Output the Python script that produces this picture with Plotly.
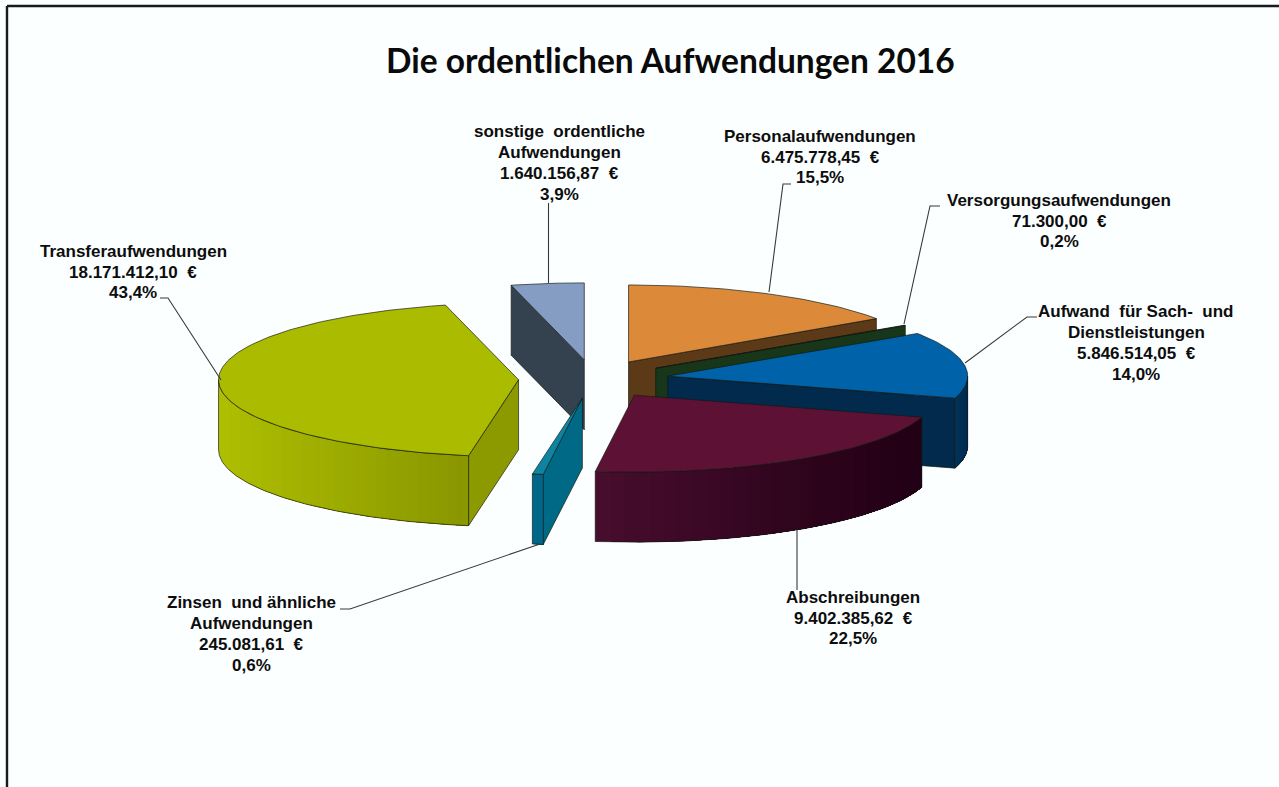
import numpy as np
import plotly.graph_objects as go

# --- data ---
names = [
    ["Personalaufwendungen"],
    ["Versorgungsaufwendungen"],
    ["Aufwand\u00a0 für Sach-\u00a0 und", "Dienstleistungen"],
    ["Abschreibungen"],
    ["Zinsen\u00a0 und ähnliche", "Aufwendungen"],
    ["Transferaufwendungen"],
    ["sonstige\u00a0 ordentliche", "Aufwendungen"],
]
values = [6475778.45, 71300.00, 5846514.05, 9402385.62, 245081.61, 18171412.10, 1640156.87]

# --- styles ---
top_colors = ["#DC8A3A", "#1B3A17", "#0062A8", "#5C1135", "#0E84A3", "#AABB00", "#859DC3"]
face_colors = ["#5C3A17", "#17361A", "#012A4C", "#2A0A1C", "#006A86", "#8C9A00", "#34414F"]
wall_left = ["#5C3A17", "#17361A", "#01345C", "#470D2C", "#00688A", "#AEBE00", "#34414F"]
wall_right = ["#5C3A17", "#17361A", "#012C4E", "#220016", "#00688A", "#8A9700", "#34414F"]
draw_order = [6, 5, 0, 1, 2, 4, 3]

CX, CY, RX, RY = 593.5, 379.0, 300.0, 77.0
DEPTH, EXPLODE = 70.0, 0.25
PAGE = "#FBFFFF"
EDGE = "rgba(20,25,20,0.85)"
LINE_GAP = 20.7

label_pos = [(820, 157), (1059, 221), (1136, 343), (853, 618), (251, 634), (133, 272), (559, 163)]
leaders = [
    ([791, 783, 769], [184, 184, 292]),
    ([940, 930, 904], [206, 206, 324]),
    ([1037, 1027, 965], [317, 317, 363]),
    ([797, 797], [530, 590]),
    ([340, 350, 540], [609, 609, 544]),
    ([160, 168, 221], [298, 298, 380]),
    ([548.5, 548.5], [203, 283]),
]


def de(v):
    return f"{v:,.2f}".replace(",", "X").replace(".", ",").replace("X", ".")


def hex_rgb(h):
    return np.array([int(h[i:i + 2], 16) for i in (1, 3, 5)], float)


def mix(a, b, t):
    c = hex_rgb(a) * (1 - t) + hex_rgb(b) * t
    return "rgb(%d,%d,%d)" % tuple(c)


total = sum(values)
shares = [v / total for v in values]
bounds = np.concatenate([[0], np.cumsum(shares)]) * 360.0

fig = go.Figure()


def poly(xs, ys, fill, line=None, width=0.8):
    fig.add_trace(go.Scatter(
        x=list(xs), y=list(ys), mode="lines", fill="toself", fillcolor=fill,
        line=dict(color=line or fill, width=width), hoverinfo="skip", showlegend=False))


for i in draw_order:
    a0, a1 = bounds[i], bounds[i + 1]
    mid = np.radians((a0 + a1) / 2)
    ax = CX + EXPLODE * RX * np.sin(mid)
    ay = CY - EXPLODE * RY * np.cos(mid)

    def rim(deg):
        r = np.radians(deg)
        return ax + RX * np.sin(r), ay - RY * np.cos(r)

    # radial cut faces that look towards the viewer
    if np.sin(np.radians(a0)) < -1e-6:
        x, y = rim(a0)
        poly([ax, x, x, ax, ax], [ay, y, y + DEPTH, ay + DEPTH, ay], face_colors[i], EDGE)
    if np.sin(np.radians(a1)) > 1e-6:
        x, y = rim(a1)
        poly([ax, x, x, ax, ax], [ay, y, y + DEPTH, ay + DEPTH, ay], face_colors[i], EDGE)

    # outer wall: overlapping shaded bands so that no seams appear
    w0, w1 = max(a0, 90.0), min(a1, 270.0)
    if w1 > w0:
        full = np.linspace(w0, w1, 160)
        xf, yf = rim(full)
        lo, hi = xf.min(), xf.max()
        steps = 24
        levels = np.linspace(lo, hi, steps, endpoint=False)
        for k, level in enumerate(levels):
            keep = xf >= level
            xs, ys = xf[keep], yf[keep]
            if len(xs) < 2:
                continue
            col = mix(wall_left[i], wall_right[i], k / max(steps - 1, 1))
            fig.add_trace(go.Scatter(
                x=np.r_[xs, xs[::-1], xs[0]], y=np.r_[ys, ys[::-1] + DEPTH, ys[0]], mode="lines",
                fill="toself", fillcolor=col, line=dict(width=0), hoverinfo="skip", showlegend=False))
        fig.add_trace(go.Scatter(
            x=np.r_[xf, xf[::-1], xf[0]], y=np.r_[yf, yf[::-1] + DEPTH, yf[0]], mode="lines",
            line=dict(color=EDGE, width=0.8), hoverinfo="skip", showlegend=False))

    # top surface
    arc = np.linspace(a0, a1, max(3, int(a1 - a0) + 2))
    xs, ys = rim(arc)
    poly(np.r_[ax, xs, ax], np.r_[ay, ys, ay], top_colors[i], EDGE, 0.8)

# leader lines
for lx, ly in leaders:
    fig.add_trace(go.Scatter(x=lx, y=ly, mode="lines", line=dict(color="#3A3A3A", width=1.1),
                             hoverinfo="skip", showlegend=False))

# data labels: one annotation per text line, to keep the reference's line spacing
annotations = []
for name, v, s, (lx, ly) in zip(names, values, shares, label_pos):
    pct = f"{s * 100:.1f}".replace(".", ",") + "%"
    lines = name + [f"{de(v)}\u00a0 €", pct]
    first = ly - LINE_GAP * (len(lines) - 1) / 2
    for k, line in enumerate(lines):
        annotations.append(dict(
            x=lx, y=first + k * LINE_GAP, xref="x", yref="y", showarrow=False,
            xanchor="center", yanchor="middle", text=f"<b>{line}</b>",
            font=dict(family="Liberation Sans", size=17, color="#0D0D0D")))
annotations.append(dict(
    x=670, y=60, xref="x", yref="y", showarrow=False, xanchor="center", yanchor="middle",
    text="<b>Die ordentlichen Aufwendungen 2016</b>",
    font=dict(family="Lato", size=33.5, color="#0A0A0A")))

fig.update_layout(
    width=1279, height=787, autosize=False,
    margin=dict(l=0, r=0, t=0, b=0),
    paper_bgcolor=PAGE, plot_bgcolor=PAGE,
    xaxis=dict(range=[0, 1279], visible=False, fixedrange=True),
    yaxis=dict(range=[787, 0], visible=False, fixedrange=True),
    showlegend=False,
    annotations=annotations,
    shapes=[
        dict(type="line", x0=7, x1=1279, y0=6, y1=6, xref="x", yref="y", line=dict(color="#1A1A1A", width=2.4)),
        dict(type="line", x0=7, x1=7, y0=6, y1=787, xref="x", yref="y", line=dict(color="#1A1A1A", width=2.4)),
    ],
)

fig.write_html("out.html", config=dict(displayModeBar=False),
               post_script="document.body.style.margin='0';document.body.style.background='%s';" % PAGE)
